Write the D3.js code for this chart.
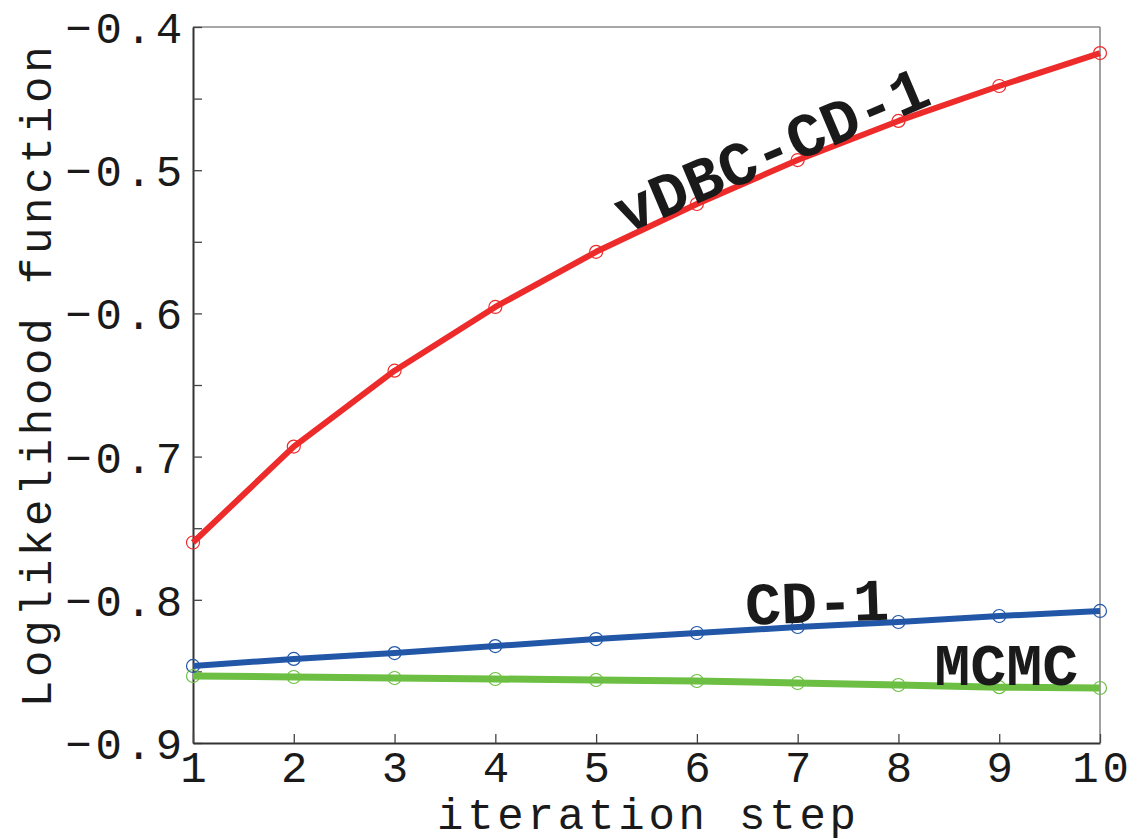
<!DOCTYPE html>
<html>
<head>
<meta charset="utf-8">
<script src="https://cdn.jsdelivr.net/npm/d3@7"></script>
<style>
html,body{margin:0;padding:0;background:#fff;}
svg{display:block;}
</style>
</head>
<body>
<svg id="chart" width="1138" height="839"></svg>
<script>
const steps = [1,2,3,4,5,6,7,8,9,10];
const vdbc = [-0.760,-0.693,-0.640,-0.5955,-0.557,-0.5236,-0.4929,-0.4656,-0.4412,-0.4182];
const cd1  = [-0.8462,-0.8413,-0.8372,-0.8323,-0.8274,-0.8232,-0.8190,-0.8155,-0.8113,-0.8078];
const mcmc = [-0.8532,-0.8539,-0.8546,-0.8553,-0.8560,-0.8567,-0.8581,-0.8595,-0.8610,-0.8616];
const yMajorTicks = [-0.9,-0.8,-0.7,-0.6,-0.5,-0.4];
const yMinorTicks = [-0.85,-0.75,-0.65,-0.55,-0.45];
const xTicks = steps;
const seriesNames = ["vDBC-CD-1","CD-1","MCMC"];

(function(){
const svg = d3.select("#chart");
const mL = 193, mR = 1100, mT = 27, mB = 743;
const x = d3.scaleLinear().domain([1,10]).range([mL,mR]);
const y = d3.scaleLinear().domain([-0.9,-0.4]).range([mB,mT]);

const tickFont = "'Liberation Mono', 'DejaVu Sans Mono', monospace";
const fs = 44, ls = 3.8;

// frame: top and right lighter
svg.append("line").attr("x1",mL).attr("x2",mR).attr("y1",mT).attr("y2",mT)
  .attr("stroke","#8a8a8a").attr("stroke-width",1.6);
svg.append("line").attr("x1",mR).attr("x2",mR).attr("y1",mT).attr("y2",mB)
  .attr("stroke","#8a8a8a").attr("stroke-width",1.6);

// y axis
const yAxis = d3.axisLeft(y).tickValues(yMajorTicks).tickSizeInner(-9).tickSizeOuter(0).tickPadding(7)
  .tickFormat(d => d3.format(".1f")(d).replace("-","\u2212"));
const gy = svg.append("g").attr("transform",`translate(${mL},0)`).call(yAxis);
gy.select(".domain").attr("stroke","#333").attr("stroke-width",2);
gy.selectAll(".tick line").attr("stroke","#444").attr("stroke-width",1.3);
gy.selectAll(".tick text").attr("font-family",tickFont).attr("font-size",fs).attr("letter-spacing",ls)
  .attr("fill","#1a1a1a").attr("dy","0.35em");
const gyMinor = svg.append("g").attr("transform",`translate(${mL},0)`)
  .call(d3.axisLeft(y).tickValues(yMinorTicks).tickSizeInner(-9).tickSizeOuter(0).tickFormat(""));
gyMinor.select(".domain").remove();
gyMinor.selectAll(".tick line").attr("stroke","#444").attr("stroke-width",1.3);

// x axis
const xAxis = d3.axisBottom(x).tickValues(xTicks).tickSizeInner(-9).tickSizeOuter(0).tickPadding(0)
  .tickFormat(d3.format("d"));
const gx = svg.append("g").attr("transform",`translate(0,${mB})`).call(xAxis);
gx.select(".domain").attr("stroke","#333").attr("stroke-width",2);
gx.selectAll(".tick line").attr("stroke","#444").attr("stroke-width",1.3);
gx.selectAll(".tick text").attr("font-family",tickFont).attr("font-size",fs).attr("letter-spacing",ls)
  .attr("fill","#1a1a1a").attr("dy",39).attr("dx",ls/2);

// axis titles
svg.append("text").attr("x",(mL+mR)/2 + ls/2).attr("y",829)
  .attr("text-anchor","middle").attr("font-family",tickFont).attr("font-size",fs).attr("letter-spacing",ls)
  .attr("fill","#1a1a1a").text("iteration step");
svg.append("text").attr("transform",`translate(51,${(mT+mB)/2 - 12 + ls/2}) rotate(-90)`)
  .attr("text-anchor","middle").attr("font-family",tickFont).attr("font-size",fs).attr("letter-spacing",ls)
  .attr("fill","#1a1a1a").text("Loglikelihood function");

// series
const series = [
  {name: seriesNames[0], values: vdbc, color: "#ee2b2b", width: 6},
  {name: seriesNames[1], values: cd1,  color: "#2257a8", width: 6},
  {name: seriesNames[2], values: mcmc, color: "#6cbf42", width: 7}
];
const line = d3.line().x((d,i)=>x(steps[i])).y(d=>y(d));
series.slice().reverse().forEach(s => {
  svg.append("path").datum(s.values).attr("d",line).attr("fill","none")
    .attr("stroke",s.color).attr("stroke-width",s.width).attr("stroke-linejoin","round");
});
series.forEach(s => {
  svg.append("g").selectAll("circle").data(s.values).join("circle")
    .attr("cx",(d,i)=>x(steps[i])).attr("cy",d=>y(d)).attr("r",6.5)
    .attr("fill","none").attr("stroke",s.color).attr("stroke-width",1.2);
});

// in-plot labels
const labelFont = "'Liberation Mono', 'DejaVu Sans Mono', monospace";
const labels = [
  {text: seriesNames[0], xv: 6.82, yv: -0.499, angle: -23, size: 62},
  {text: seriesNames[1], xv: 7.2,  yv: -0.8156, angle: -2, size: 60},
  {text: seriesNames[2], xv: 9.07, yv: -0.8595, angle: 0, size: 60}
];
labels.forEach(l => {
  svg.append("text")
    .attr("transform",`translate(${x(l.xv)},${y(l.yv)}) rotate(${l.angle})`)
    .attr("text-anchor","middle").attr("font-family",labelFont).attr("font-size",l.size)
    .attr("font-weight","bold").attr("fill","#1a1a1a").text(l.text);
});
})();
</script>
</body>
</html>
